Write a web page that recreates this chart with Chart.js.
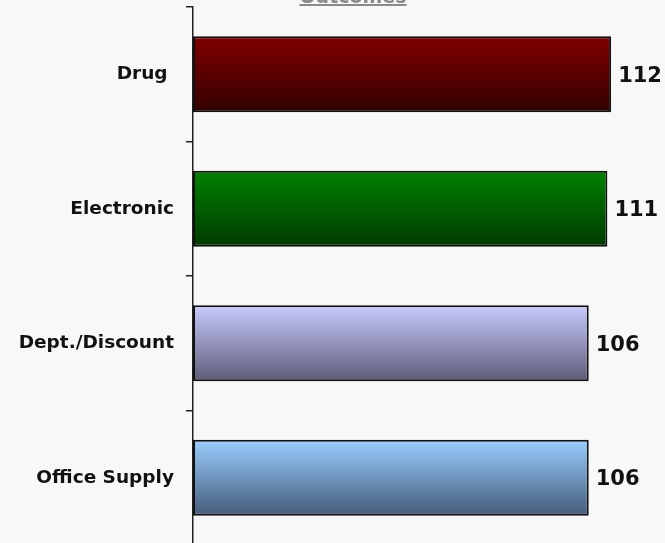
<!DOCTYPE html>
<html>
<head>
<meta charset="utf-8">
<script src="https://cdn.jsdelivr.net/npm/chart.js@4/dist/chart.umd.min.js"></script>
<style>
  html, body { margin: 0; padding: 0; background: #f8f8f8; overflow: hidden; }
  canvas { display: block; }
</style>
</head>
<body>
<canvas id="outlets" width="665" height="550"></canvas>
<script>
// chart data
const title = 'Outcomes'
const categories = ['Drug ', 'Electronic', 'Dept./Discount', 'Office Supply']
const values = [112, 111, 106, 106]
const topColors = ['#820000', '#008200', '#cacaff', '#9acdff']
const bottomColors = ['#320000', '#003a00', '#5c5c78', '#445c78']

const barPct = 0.565

// vertical gradient per bar, built from the bar's own band
function barFill (ctx) {
  const chart = ctx.chart
  const i = ctx.dataIndex
  const y = chart.scales.y
  if (!chart.chartArea || !y || y.getPixelForValue(i) === undefined) return topColors[i]
  const band = (y.bottom - y.top) / categories.length
  const half = band * barPct / 2
  const mid = y.getPixelForValue(i)
  const g = chart.ctx.createLinearGradient(0, mid - half, 0, mid + half)
  g.addColorStop(0, topColors[i])
  g.addColorStop(1, bottomColors[i])
  return g
}

// numbers at the end of the bars
const valueLabels = {
  id: 'valueLabels',
  afterDatasetsDraw (chart) {
    const c = chart.ctx
    c.save()
    c.font = 'bold 21px "DejaVu Sans", Verdana, sans-serif'
    c.fillStyle = '#111'
    c.textAlign = 'left'
    c.textBaseline = 'middle'
    chart.getDatasetMeta(0).data.forEach((bar, i) => {
      c.fillText(String(values[i]), bar.x + 7, bar.y + 2)
    })
    c.restore()
  }
}

// title, mostly cut off by the top edge
const topTitle = {
  id: 'topTitle',
  afterDraw (chart) {
    const c = chart.ctx
    c.save()
    c.font = 'bold 19px "DejaVu Sans", Verdana, sans-serif'
    c.fillStyle = '#8a8a8a'
    c.textAlign = 'center'
    c.textBaseline = 'alphabetic'
    c.fillText(title, 353, 3)
    const w = c.measureText(title).width
    c.fillRect(353 - w / 2, 4, w, 2)
    c.restore()
  }
}

new Chart(document.getElementById('outlets'), {
  type: 'bar',
  data: {
    labels: categories,
    datasets: [{
      data: values,
      backgroundColor: barFill,
      borderColor: '#111',
      borderWidth: 2,
      borderSkipped: false,
      barPercentage: barPct,
      categoryPercentage: 1
    }]
  },
  options: {
    indexAxis: 'y',
    responsive: false,
    animation: false,
    devicePixelRatio: 1,
    layout: { padding: { top: 7, bottom: 5, left: 0, right: 24 } },
    plugins: {
      legend: { display: false },
      tooltip: { enabled: false }
    },
    scales: {
      x: {
        display: false,
        min: 0,
        max: 120
      },
      y: {
        afterFit (scale) {
          scale.width = 193
          // labels sit mid-band, no extra room needed above/below
          scale.paddingTop = 0
          scale.paddingBottom = 0
        },
        grid: {
          offset: true,
          drawOnChartArea: false,
          tickLength: 7,
          color: '#222',
          lineWidth: 1.5
        },
        border: { display: true, color: '#222', width: 1.5 },
        ticks: {
          padding: 12,
          color: '#111',
          font: { family: '"DejaVu Sans", Verdana, sans-serif', size: 18.5, weight: 'bold' }
        }
      }
    }
  },
  plugins: [valueLabels, topTitle]
})
</script>
</body>
</html>
